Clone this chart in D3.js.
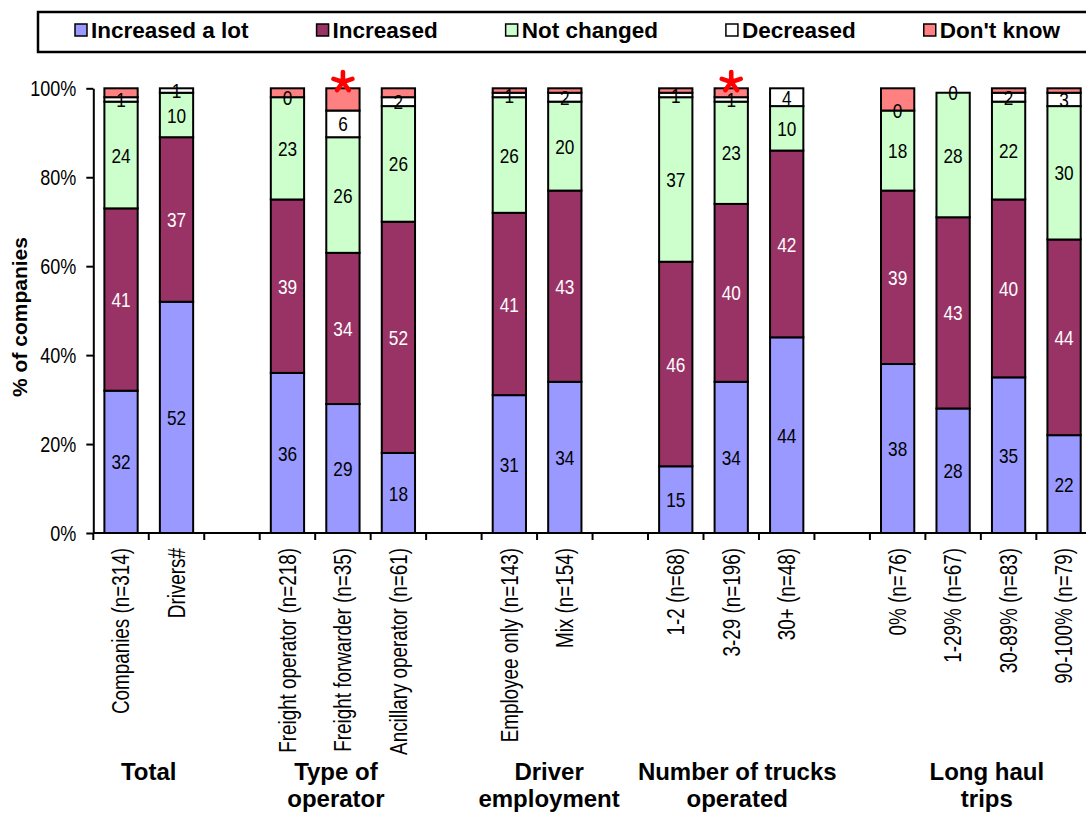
<!DOCTYPE html>
<html>
<head>
<meta charset="utf-8">
<script src="https://cdn.jsdelivr.net/npm/d3@7"></script>
<style>
  html, body { margin: 0; padding: 0; background: #fff; }
  svg { display: block; }
  .narrow { font-family: "Liberation Sans", Arial, sans-serif; }
  .bold { font-family: "Liberation Sans", Arial, sans-serif; font-weight: bold; }
</style>
</head>
<body>
<svg id="chart" width="1086" height="813"></svg>
<script>
// Survey: change reported by transport companies, stacked 100% per category
const categories = [
  "Companies (n=314)", "Drivers#",
  "Freight operator (n=218)", "Freight forwarder (n=35)", "Ancillary operator (n=61)",
  "Employee only (n=143)", "Mix (n=154)",
  "1-2 (n=68)", "3-29 (n=196)", "30+ (n=48)",
  "0% (n=76)", "1-29% (n=67)", "30-89% (n=83)", "90-100% (n=79)"
];
const groupIndex = [0, 0, 1, 1, 1, 2, 2, 3, 3, 3, 4, 4, 4, 4];
const groupNames = [
  ["Total"], ["Type of", "operator"], ["Driver", "employment"],
  ["Number of trucks", "operated"], ["Long haul", "trips"]
];

const increasedALot = [32, 52, 36, 29, 18, 31, 34, 15, 34, 44, 38, 28, 35, 22];
const increased     = [41, 37, 39, 34, 52, 41, 43, 46, 40, 42, 39, 43, 40, 44];
const notChanged    = [24, 10, 23, 26, 26, 26, 20, 37, 23, 10, 18, 28, 22, 30];
const decreased     = [ 1,  1,  0,  6,  2,  1,  2,  1,  1,  4,  0,  0,  2,  3];
const dontKnow      = [ 2,  0,  2,  5,  2,  1,  1,  1,  2,  0,  5,  0,  1,  1];

// Categories flagged by a red asterisk
const flagged = ["Freight forwarder (n=35)", "3-29 (n=196)"];

const seriesNames = ["Increased a lot", "Increased", "Not changed", "Decreased", "Don't know"];
const seriesValues = [increasedALot, increased, notChanged, decreased, dontKnow];
const seriesColors = ["#9999FF", "#993366", "#CCFFCC", "#FFFFFF", "#FF8080"];
const labelColors  = ["#000", "#fff", "#000", "#000", null];   // null: segment not labelled

const yTicks = [0, 20, 40, 60, 80, 100];

// Hand-placed nudges of the group titles (px)
const groupTitleShift = [0, -7, 12, 6, 6];

// condensed lettering: regular sans squeezed horizontally
const NARROW = 0.82;

// ---- table for d3.stack ----
const rows = categories.map((c, i) => {
  const r = { category: c, slot: i + groupIndex[i] };
  seriesNames.forEach((s, k) => { r[s] = seriesValues[k][i]; });
  return r;
});
const nSlots = categories.length + groupNames.length - 1;

const svg = d3.select("#chart");
const plot = { left: 93.3, right: 1091.8, top: 88.3, bottom: 533 };

const x = d3.scaleBand()
  .domain(d3.range(nSlots))
  .range([plot.left, plot.right])
  .paddingInner(0.4)
  .paddingOuter(0.2);
const y = d3.scaleLinear().domain([0, 100]).range([plot.bottom, plot.top]);

const stack = d3.stack().keys(seriesNames);
const stacked = stack(rows);

// ---- bars ----
const layers = svg.append("g").selectAll("g")
  .data(stacked)
  .join("g")
  .attr("fill", (d, k) => seriesColors[k]);

layers.selectAll("rect")
  .data(d => d)
  .join("rect")
  .attr("x", d => x(d.data.slot))
  .attr("width", x.bandwidth())
  .attr("y", d => y(d[1]))
  .attr("height", d => y(d[0]) - y(d[1]))
  .attr("stroke", "#000")
  .attr("stroke-width", 2);

// ---- segment value labels ----
stacked.forEach((layer, k) => {
  if (!labelColors[k]) return;
  svg.append("g").selectAll("text")
    .data(layer)
    .join("text")
    .attr("class", "narrow")
    .attr("transform", d =>
      `translate(${x(d.data.slot) + x.bandwidth() / 2},${y((d[0] + d[1]) / 2)}) scale(${NARROW},1)`)
    .attr("dy", "0.36em")
    .attr("text-anchor", "middle")
    .attr("font-size", 21)
    .attr("fill", labelColors[k])
    .text(d => d.data[seriesNames[k]]);
});

// ---- asterisk markers (five-armed star drawn as strokes) ----
const asteriskSymbol = {
  draw(context, size) {
    const r = Math.sqrt(size) / 2;
    for (let a = 0; a < 5; a++) {
      const ang = -Math.PI / 2 + a * 2 * Math.PI / 5;
      context.moveTo(0, 0);
      context.lineTo(r * Math.cos(ang), r * Math.sin(ang));
    }
  }
};
svg.append("g").selectAll("path")
  .data(rows.filter(r => flagged.includes(r.category)))
  .join("path")
  .attr("d", d3.symbol(asteriskSymbol, 400))
  .attr("transform", d => `translate(${x(d.slot) + x.bandwidth() / 2},82)`)
  .attr("fill", "none")
  .attr("stroke", "#FF0000")
  .attr("stroke-width", 4.6)
  .attr("stroke-linecap", "round");

// ---- y axis ----
const yAxis = d3.axisLeft(y).tickValues(yTicks).tickSize(7).tickSizeOuter(0).tickFormat("");
const gy = svg.append("g").attr("transform", `translate(${plot.left},0)`).call(yAxis);
gy.select(".domain").attr("stroke", "#000").attr("stroke-width", 2);
gy.selectAll(".tick line").attr("stroke", "#000").attr("stroke-width", 2);
svg.append("g").selectAll("text")
  .data(yTicks)
  .join("text")
  .attr("class", "narrow")
  .attr("font-size", 22)
  .attr("text-anchor", "end")
  .attr("dy", "0.36em")
  .attr("transform", d => `translate(${plot.left - 17},${y(d)}) scale(${NARROW},1)`)
  .text(d => d + "%");

// ---- x axis: baseline with ticks at slot boundaries ----
const gx = svg.append("g");
gx.append("line")
  .attr("x1", plot.left).attr("x2", plot.right)
  .attr("y1", plot.bottom).attr("y2", plot.bottom)
  .attr("stroke", "#000").attr("stroke-width", 2);
gx.selectAll("line.tick")
  .data(d3.range(nSlots + 1))
  .join("line")
  .attr("class", "tick")
  .attr("x1", i => plot.left + i * x.step())
  .attr("x2", i => plot.left + i * x.step())
  .attr("y1", plot.bottom).attr("y2", plot.bottom + 7)
  .attr("stroke", "#000").attr("stroke-width", 2);

// rotated category labels
svg.append("g").selectAll("text")
  .data(rows)
  .join("text")
  .attr("class", "narrow")
  .attr("font-size", 23)
  .attr("text-anchor", "end")
  .attr("transform", d =>
    `translate(${x(d.slot) + x.bandwidth() / 2},${plot.bottom + 15}) rotate(-90) scale(${NARROW},1)`)
  .attr("dy", "0.36em")
  .text(d => d.category);

// group titles centred under their categories
const groupCenters = groupNames.map((g, gi) => {
  const slots = rows.filter((r, i) => groupIndex[i] === gi).map(r => r.slot);
  return (x(d3.min(slots)) + x(d3.max(slots)) + x.bandwidth()) / 2 + groupTitleShift[gi];
});
const gt = svg.append("g").selectAll("text")
  .data(groupNames)
  .join("text")
  .attr("class", "bold")
  .attr("font-size", 24)
  .attr("text-anchor", "middle")
  .attr("x", (d, i) => groupCenters[i])
  .attr("y", 780);
gt.selectAll("tspan")
  .data((d, i) => d.map(line => ({ line, cx: groupCenters[i] })))
  .join("tspan")
  .attr("x", d => d.cx)
  .attr("dy", (d, j) => j === 0 ? 0 : 27)
  .text(d => d.line);

// y axis title
svg.append("text")
  .attr("class", "bold")
  .attr("font-size", 21)
  .attr("text-anchor", "middle")
  .attr("transform", `translate(27,317) rotate(-90)`)
  .text("% of companies");

// ---- legend ----
const legend = svg.append("g");
legend.append("rect")
  .attr("x", 38).attr("y", 12).attr("width", 1100).attr("height", 40)
  .attr("fill", "#fff").attr("stroke", "#000").attr("stroke-width", 2.5);
let lx = 75;
seriesNames.forEach((name, k) => {
  legend.append("rect")
    .attr("x", lx).attr("y", 24).attr("width", 12).attr("height", 12)
    .attr("fill", seriesColors[k]).attr("stroke", "#000").attr("stroke-width", 1.5);
  const t = legend.append("text")
    .attr("class", "bold")
    .attr("font-size", 22.5)
    .attr("x", lx + 16).attr("y", 38)
    .text(name);
  lx += 16 + t.node().getComputedTextLength() + 68;
});
</script>
</body>
</html>
